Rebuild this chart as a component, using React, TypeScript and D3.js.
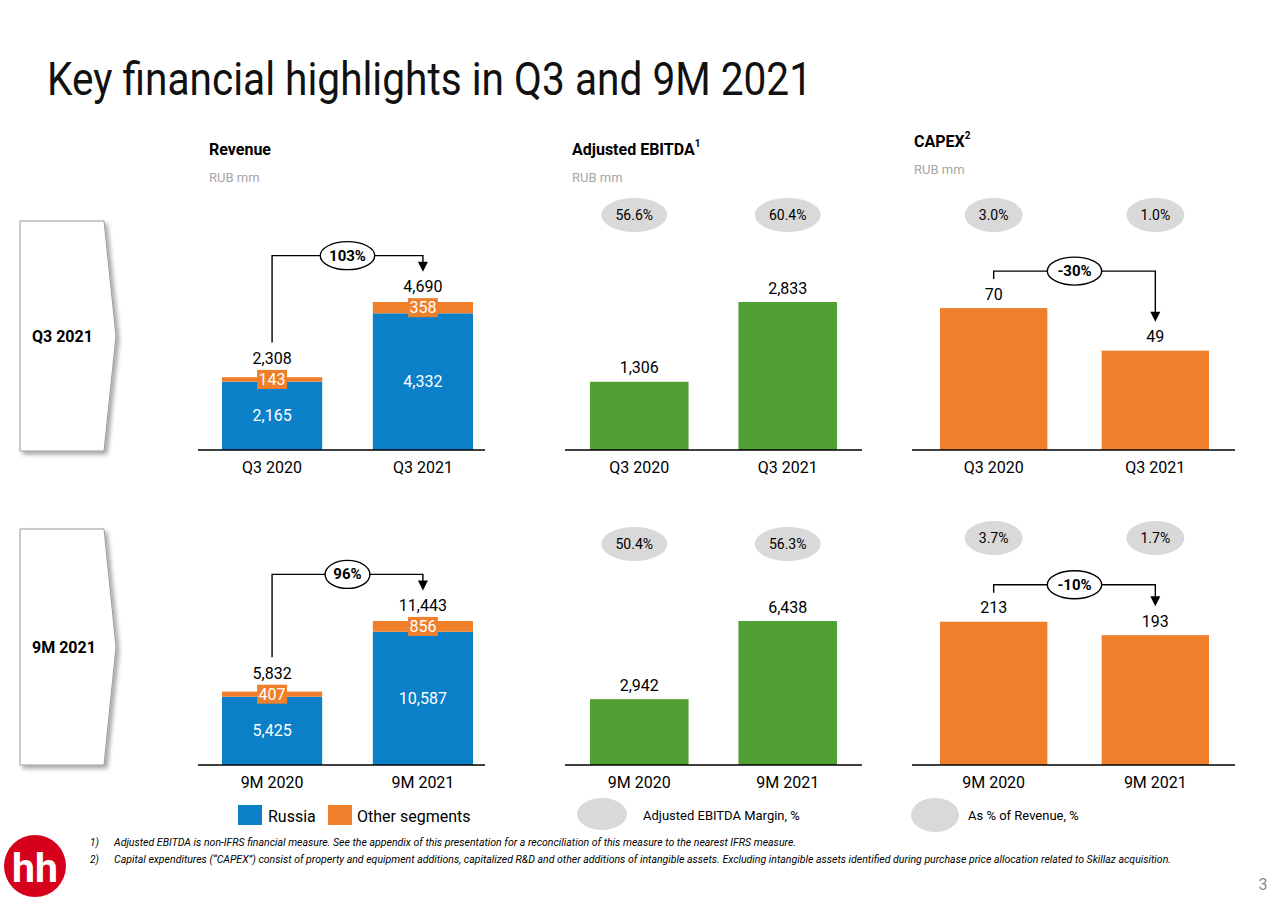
import React from "react";
import * as d3 from "d3";

// ---------------- DATA ----------------
const q3Categories = ["Q3 2020", "Q3 2021"];
const nineMCategories = ["9M 2020", "9M 2021"];

const q3RevenueRussia = [2165, 4332];
const q3RevenueOther = [143, 358];
const q3RevenueTotal = [2308, 4690];
const nineMRevenueRussia = [5425, 10587];
const nineMRevenueOther = [407, 856];
const nineMRevenueTotal = [5832, 11443];

const q3Ebitda = [1306, 2833];
const nineMEbitda = [2942, 6438];
const q3EbitdaMargin = ["56.6%", "60.4%"];
const nineMEbitdaMargin = ["50.4%", "56.3%"];

const q3Capex = [70, 49];
const nineMCapex = [213, 193];
const q3CapexShare = ["3.0%", "1.0%"];
const nineMCapexShare = ["3.7%", "1.7%"];

const q3RevenueGrowth = "103%";
const nineMRevenueGrowth = "96%";
const q3CapexGrowth = "-30%";
const nineMCapexGrowth = "-10%";

// scale domain maxima (value mapped to full bar height)
const q3Domain = { revenue: 4690, ebitda: 2833, capex: 73 };
const nineMDomain = { revenue: 11761, ebitda: 6617, capex: 220 };

const footnote1 =
  "Adjusted EBITDA  is non-IFRS financial measure. See the appendix of this presentation for a reconciliation of this measure to the nearest IFRS measure.";
const footnote2 =
  "Capital expenditures (“CAPEX”) consist of property and equipment additions, capitalized R&D and other additions of intangible assets. Excluding intangible assets identified during purchase price allocation related to Skillaz acquisition.";

// ---------------- STYLE ----------------
const FONT = "Roboto, 'Noto Sans', sans-serif";
const BLUE = "#0b80c9";
const ORANGE = "#f07f2b";
const GREEN = "#50a033";
const GRAY_ELL = "#d9d9d9";
const BAR_H = 148;
const fmt = d3.format(",");

const geo = {
  revenue: { axis: [198, 485], bars: [222, 473] },
  ebitda: { axis: [565, 862], bars: [590, 837] },
  capex: { axis: [912, 1235], bars: [940, 1209] },
};

function band(cats: string[], key: "revenue" | "ebitda" | "capex") {
  return d3.scaleBand().domain(cats).range(geo[key].bars as [number, number]).paddingInner(0.336).paddingOuter(0);
}

function Growth({ x0, x1, leftStart, tip, lift, label }: any) {
  const hy = Math.min(leftStart, tip) - lift;
  const mx = (x0 + x1) / 2;
  const rx = 8 + label.length * 4.8;
  return (
    <g>
      <path d={`M${x0},${leftStart}V${hy}H${x1}V${tip - 9}`} fill="none" stroke="#000" strokeWidth={1.4} />
      <path d={`M${x1 - 5},${tip - 10}L${x1 + 5},${tip - 10}L${x1},${tip}Z`} fill="#000" />
      <ellipse cx={mx} cy={hy} rx={rx} ry={14} fill="#fff" stroke="#000" strokeWidth={1.4} />
      <text x={mx} y={hy} textAnchor="middle" dominantBaseline="central" fontSize={15} fontWeight={700}>
        {label}
      </text>
    </g>
  );
}

function Row({ base, cats, russia, other, total, ebitda, margin, capex, share, domain, revGrowth, capexGrowth, marginY, shareY }: any) {
  // Revenue
  const xr = band(cats, "revenue");
  const yr = d3.scaleLinear().domain([0, domain.revenue]).range([base, base - BAR_H]);
  const table = cats.map((c: string, i: number) => ({ cat: c, russia: russia[i], other: other[i] }));
  const stacked = d3.stack<any>().keys(["russia", "other"])(table);
  const revColors = [BLUE, ORANGE];
  const cx = (c: string) => (xr(c) as number) + xr.bandwidth() / 2;
  const otherMid = (i: number) => (yr(stacked[1][i][0]) + yr(stacked[1][i][1])) / 2;
  const totalLabelY = (i: number) => otherMid(i) - 21;

  // EBITDA
  const xe = band(cats, "ebitda");
  const ye = d3.scaleLinear().domain([0, domain.ebitda]).range([base, base - BAR_H]);
  const ce = (c: string) => (xe(c) as number) + xe.bandwidth() / 2;

  // CAPEX
  const xc = band(cats, "capex");
  const yc = d3.scaleLinear().domain([0, domain.capex]).range([base, base - BAR_H]);
  const cc = (c: string) => (xc(c) as number) + xc.bandwidth() / 2;

  return (
    <g>
      {/* Revenue */}
      {stacked.map((s, k) => (
        <g key={k}>
          {s.map((d, i) => (
            <rect key={i} x={xr(cats[i])} width={xr.bandwidth()} y={yr(d[1])} height={yr(d[0]) - yr(d[1])} fill={revColors[k]} />
          ))}
        </g>
      ))}
      {cats.map((c: string, i: number) => (
        <g key={c}>
          <text x={cx(c)} y={(yr(0) + yr(russia[i])) / 2} textAnchor="middle" dominantBaseline="central" fill="#fff" fontSize={16}>
            {fmt(russia[i])}
          </text>
          <rect x={cx(c) - 15} y={otherMid(i) - 9.5} width={30} height={19} fill={ORANGE} />
          <text x={cx(c)} y={otherMid(i)} textAnchor="middle" dominantBaseline="central" fill="#fff" fontSize={16}>
            {fmt(other[i])}
          </text>
          <text x={cx(c)} y={totalLabelY(i)} textAnchor="middle" dominantBaseline="central" fontSize={16}>
            {fmt(total[i])}
          </text>
          <text x={cx(c)} y={base + 17} textAnchor="middle" dominantBaseline="central" fontSize={16}>
            {c}
          </text>
        </g>
      ))}
      <line x1={geo.revenue.axis[0]} x2={geo.revenue.axis[1]} y1={base} y2={base} stroke="#000" strokeWidth={1.3} />
      <Growth x0={cx(cats[0])} x1={cx(cats[1])} leftStart={totalLabelY(0) - 16} tip={totalLabelY(1) - 15} lift={16} label={revGrowth} />

      {/* EBITDA */}
      {cats.map((c: string, i: number) => (
        <g key={c}>
          <rect x={xe(c)} width={xe.bandwidth()} y={ye(ebitda[i])} height={ye(0) - ye(ebitda[i])} fill={GREEN} />
          <text x={ce(c)} y={ye(ebitda[i]) - 14} textAnchor="middle" dominantBaseline="central" fontSize={16}>
            {fmt(ebitda[i])}
          </text>
          <text x={ce(c)} y={base + 17} textAnchor="middle" dominantBaseline="central" fontSize={16}>
            {c}
          </text>
          <ellipse cx={ce(c) - (i === 0 ? 5 : 0)} cy={marginY} rx={33} ry={17} fill={GRAY_ELL} />
          <text x={ce(c) - (i === 0 ? 5 : 0)} y={marginY} textAnchor="middle" dominantBaseline="central" fontSize={14}>
            {margin[i]}
          </text>
        </g>
      ))}
      <line x1={geo.ebitda.axis[0]} x2={geo.ebitda.axis[1]} y1={base} y2={base} stroke="#000" strokeWidth={1.3} />

      {/* CAPEX */}
      {cats.map((c: string, i: number) => (
        <g key={c}>
          <rect x={xc(c)} width={xc.bandwidth()} y={yc(capex[i])} height={yc(0) - yc(capex[i])} fill={ORANGE} />
          <text x={cc(c)} y={yc(capex[i]) - 14} textAnchor="middle" dominantBaseline="central" fontSize={16}>
            {fmt(capex[i])}
          </text>
          <text x={cc(c)} y={base + 17} textAnchor="middle" dominantBaseline="central" fontSize={16}>
            {c}
          </text>
          <ellipse cx={cc(c)} cy={shareY} rx={29} ry={17} fill={GRAY_ELL} />
          <text x={cc(c)} y={shareY} textAnchor="middle" dominantBaseline="central" fontSize={14}>
            {share[i]}
          </text>
        </g>
      ))}
      <line x1={geo.capex.axis[0]} x2={geo.capex.axis[1]} y1={base} y2={base} stroke="#000" strokeWidth={1.3} />
      <Growth
        x0={cc(cats[0])}
        x1={cc(cats[1])}
        leftStart={yc(capex[0]) - 14 - 15}
        tip={yc(capex[1]) - 14 - 15}
        lift={8}
        label={capexGrowth}
      />
    </g>
  );
}

function SideBox({ top, bottom, label }: any) {
  const mid = (top + bottom) / 2;
  return (
    <g>
      <path d={`M20,${top}H104L116,${mid}L104,${bottom}H20Z`} fill="#fff" stroke="#9a9a9a" strokeWidth={1} filter="url(#shadow)" />
      <text x={32} y={mid} dominantBaseline="central" fontSize={16} fontWeight={700}>
        {label}
      </text>
    </g>
  );
}

export default function App() {
  return (
    <svg width={1280} height={906} style={{ position: "absolute", left: 0, top: 0, background: "#fff" }} fontFamily={FONT}>
      <defs>
        <filter id="shadow" x="-20%" y="-10%" width="150%" height="130%">
          <feDropShadow dx={3} dy={3} stdDeviation={2} floodColor="#000" floodOpacity={0.35} />
        </filter>
      </defs>
      <rect width={1280} height={906} fill="#fff" />

      <text x={47} y={95} fontSize={46} textLength={765} lengthAdjust="spacingAndGlyphs" fill="#111">
        Key financial highlights in Q3 and 9M 2021
      </text>

      {/* panel titles */}
      <text x={209} y={149} dominantBaseline="central" fontSize={16} fontWeight={700}>Revenue</text>
      <text x={209} y={177} dominantBaseline="central" fontSize={13} fill="#a6a6a6">RUB mm</text>
      <text x={572} y={149} dominantBaseline="central" fontSize={16} fontWeight={700}>
        Adjusted EBITDA<tspan fontSize={10} dy={-6}>1</tspan>
      </text>
      <text x={572} y={177} dominantBaseline="central" fontSize={13} fill="#a6a6a6">RUB mm</text>
      <text x={914} y={141} dominantBaseline="central" fontSize={16} fontWeight={700}>
        CAPEX<tspan fontSize={10} dy={-6}>2</tspan>
      </text>
      <text x={914} y={169} dominantBaseline="central" fontSize={13} fill="#a6a6a6">RUB mm</text>

      <SideBox top={221} bottom={451} label="Q3 2021" />
      <SideBox top={529} bottom={765} label="9M 2021" />

      <Row
        base={450}
        cats={q3Categories}
        russia={q3RevenueRussia}
        other={q3RevenueOther}
        total={q3RevenueTotal}
        ebitda={q3Ebitda}
        margin={q3EbitdaMargin}
        capex={q3Capex}
        share={q3CapexShare}
        domain={q3Domain}
        revGrowth={q3RevenueGrowth}
        capexGrowth={q3CapexGrowth}
        marginY={215}
        shareY={215}
      />
      <Row
        base={765}
        cats={nineMCategories}
        russia={nineMRevenueRussia}
        other={nineMRevenueOther}
        total={nineMRevenueTotal}
        ebitda={nineMEbitda}
        margin={nineMEbitdaMargin}
        capex={nineMCapex}
        share={nineMCapexShare}
        domain={nineMDomain}
        revGrowth={nineMRevenueGrowth}
        capexGrowth={nineMCapexGrowth}
        marginY={544}
        shareY={538}
      />

      {/* legend */}
      <rect x={238} y={805} width={24} height={20} fill={BLUE} />
      <text x={268} y={816} dominantBaseline="central" fontSize={16}>Russia</text>
      <rect x={328} y={805} width={24} height={20} fill={ORANGE} />
      <text x={357} y={816} dominantBaseline="central" fontSize={16}>Other segments</text>
      <ellipse cx={602} cy={814} rx={25} ry={16} fill={GRAY_ELL} />
      <text x={643} y={815} dominantBaseline="central" fontSize={13}>Adjusted EBITDA Margin, %</text>
      <ellipse cx={935} cy={815} rx={24} ry={17} fill={GRAY_ELL} />
      <text x={968} y={815} dominantBaseline="central" fontSize={13}>As % of Revenue, %</text>

      {/* footnotes */}
      <text x={90} y={842} dominantBaseline="central" fontSize={10} fontStyle="italic">1)</text>
      <text x={114} y={842} dominantBaseline="central" fontSize={10} fontStyle="italic" textLength={682} lengthAdjust="spacingAndGlyphs">
        {footnote1}
      </text>
      <text x={90} y={859} dominantBaseline="central" fontSize={10} fontStyle="italic">2)</text>
      <text x={114} y={859} dominantBaseline="central" fontSize={10} fontStyle="italic" textLength={1057} lengthAdjust="spacingAndGlyphs">
        {footnote2}
      </text>

      {/* logo */}
      <circle cx={35} cy={866} r={31} fill="#d6001c" />
      <text x={35} y={868} textAnchor="middle" dominantBaseline="central" fontSize={40} fontWeight={700} fill="#fff" textLength={46} lengthAdjust="spacingAndGlyphs">
        hh
      </text>

      <text x={1263} y={884} textAnchor="middle" dominantBaseline="central" fontSize={16} fill="#8c8c8c">3</text>
    </svg>
  );
}
